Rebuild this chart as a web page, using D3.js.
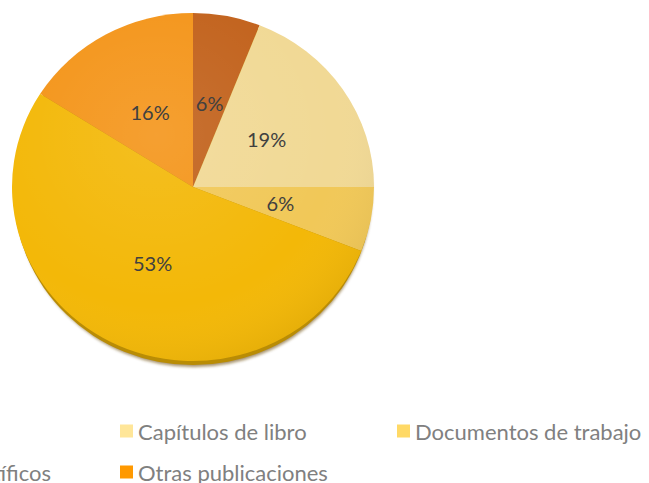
<!DOCTYPE html>
<html>
<head>
<meta charset="utf-8">
<script src="https://cdn.jsdelivr.net/npm/d3@7"></script>
<style>
  html, body { margin: 0; padding: 0; background: #ffffff; overflow: hidden; }
  svg { display: block; }
</style>
</head>
<body>
<svg id="chart" width="649" height="483"></svg>
<script>
// ---- data ----
const categories = ["Libros", "Capítulos de libro", "Documentos de trabajo", "Artículos científicos", "Otras publicaciones"];
const values = [6, 19, 6, 53, 16];
const sliceColors = ["#C2621C", "#F1D995", "#F1C858", "#F3B808", "#F4951A"];
const legendColors = ["#C55A11", "#FFE699", "#FFD966", "#FFC000", "#FF9900"];

const svg = d3.select("#chart");

// ---- layout ----
const cx = 193, cy = 187, rx = 181, ry = 174;
const sy = ry / rx;

const defs = svg.append("defs");
const shade = defs.append("radialGradient").attr("id", "shade")
  .attr("cx", "40%").attr("cy", "35%").attr("r", "70%");
shade.append("stop").attr("offset", "0%").attr("stop-color", "#ffffff").attr("stop-opacity", 0.10);
shade.append("stop").attr("offset", "70%").attr("stop-color", "#ffffff").attr("stop-opacity", 0);
shade.append("stop").attr("offset", "100%").attr("stop-color", "#000000").attr("stop-opacity", 0.06);

const blur = defs.append("filter").attr("id", "blur").attr("x", "-10%").attr("y", "-10%").attr("width", "120%").attr("height", "120%");
blur.append("feGaussianBlur").attr("stdDeviation", 1.5);

const pie = d3.pie().sort(null).value(d => d)(values);
const arc = d3.arc().innerRadius(0).outerRadius(rx);
const labelArc = d3.arc().innerRadius(89).outerRadius(89);

// shadow / rim below pie
svg.append("ellipse")
  .attr("cx", cx + 1).attr("cy", cy + 6).attr("rx", rx - 3).attr("ry", ry)
  .attr("fill", "#6b4a08").attr("opacity", 0.6).attr("filter", "url(#blur)");
svg.append("ellipse")
  .attr("cx", cx).attr("cy", cy + 4).attr("rx", rx - 1.5).attr("ry", ry)
  .attr("fill", "#B98C05");

const g = svg.append("g").attr("transform", `translate(${cx},${cy}) scale(1,${sy})`);
g.selectAll("path.slice").data(pie).join("path")
  .attr("class", "slice")
  .attr("d", arc)
  .attr("fill", (d, i) => sliceColors[i]);
g.append("circle").attr("r", rx).attr("fill", "url(#shade)");

// labels
const fmt = d3.format(".0%");
const total = d3.sum(values);
svg.append("g").selectAll("text").data(pie).join("text")
  .attr("x", d => cx + labelArc.centroid(d)[0])
  .attr("y", d => cy + labelArc.centroid(d)[1] * sy)
  .attr("text-anchor", "middle")
  .attr("dominant-baseline", "central")
  .attr("font-family", "Lato, 'Open Sans', sans-serif")
  .attr("font-size", 20)
  .attr("fill", "#404040")
  .text(d => fmt(d.data / total));

// legend
const legX0 = -157, legStep = 277, legRows = [431, 472], perRow = 3;
const leg = svg.append("g").selectAll("g").data(categories).join("g")
  .attr("transform", (d, i) => `translate(${legX0 + (i % perRow) * legStep},${legRows[Math.floor(i / perRow)]})`);
leg.append("rect").attr("x", 0).attr("y", -6.5).attr("width", 13).attr("height", 13)
  .attr("fill", (d, i) => legendColors[i]);
leg.append("text").attr("x", 18).attr("y", 0)
  .attr("dominant-baseline", "central")
  .attr("font-family", "Lato, 'Open Sans', sans-serif")
  .attr("font-size", 22)
  .attr("fill", "#808080")
  .text(d => d);
</script>
</body>
</html>
